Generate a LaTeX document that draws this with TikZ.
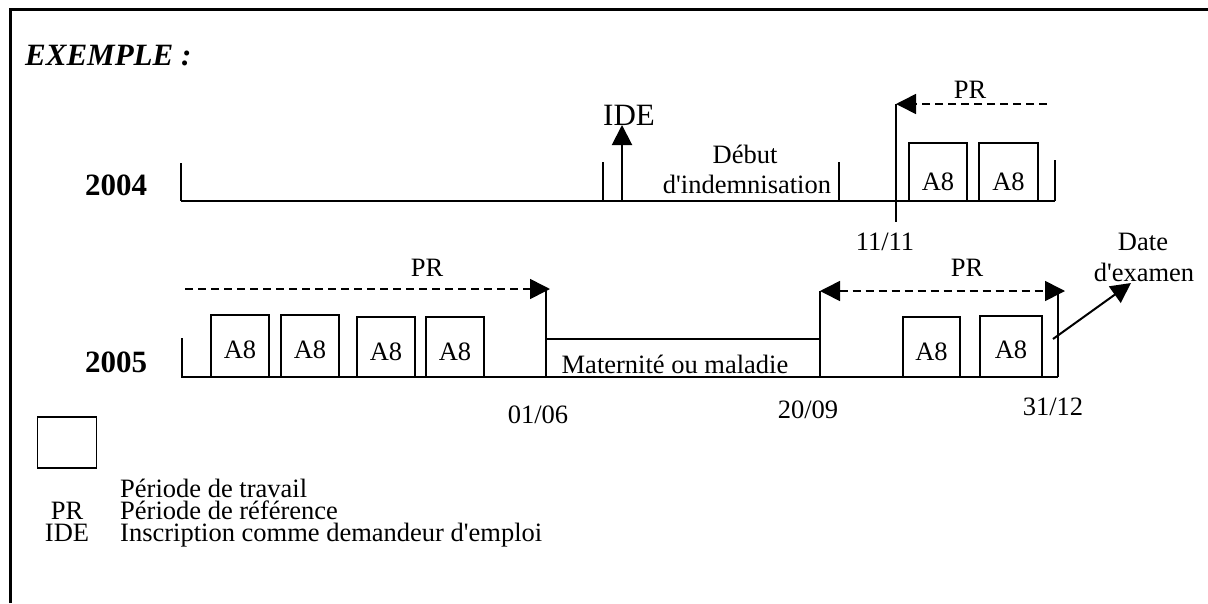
\documentclass[tikz,border=0pt]{standalone}
\usepackage{fontspec}
\setmainfont{Liberation Serif}
\usetikzlibrary{arrows.meta}
\newcommand{\sqt}{\XeTeXglyph\XeTeXcharglyph"27\relax}
\tikzset{
  txt/.style={anchor=base,inner sep=0pt,font=\fontsize{26.5}{30}\selectfont},
  bigtxt/.style={anchor=base,inner sep=0pt,font=\fontsize{31}{34}\selectfont\bfseries},
  axis/.style={line width=2pt},
  thin tick/.style={line width=1.2pt},
  wbox/.style={line width=1.6pt},
  tip/.style={-{Triangle[length=20pt,width=20pt]}},
  dtip/.style={{Triangle[length=20pt,width=20pt]}-{Triangle[length=20pt,width=20pt]}},
  prline/.style={line width=1.6pt,dash pattern=on 8pt off 5pt},
}
\begin{document}
\begin{tikzpicture}[x=1pt,y=-1pt]
\useasboundingbox (0,0) rectangle (1208,603);
% frame (top and left edges)
\draw[line width=2.6pt] (10.5,603) -- (10.5,9.3) -- (1208,9.3);

% title and years
\node[bigtxt,anchor=base west,font=\fontsize{31}{34}\selectfont\bfseries\itshape] (title) at (25,65) {EXEMPLE :};
\node[bigtxt] (y2004) at (116,195) {2004};
\node[bigtxt] (y2005) at (116,372) {2005};

% ---------------- 2004 ----------------
\coordinate (a0) at (181,201);
\coordinate (a1) at (1055,201);
\draw[axis] (a0) -- (a1);
\draw[thin tick] (181,163) -- (181,201);
\draw[thin tick] (603,162) -- (603,201);
\draw[thin tick] (839,162) -- (839,201);
\draw[thin tick] (1055,160) -- (1055,201);
% IDE arrow
\coordinate (ideb) at (622,201);
\coordinate (idet) at (622,125);
\draw[axis,tip] (ideb) -- (idet);
\node[anchor=base,inner sep=0pt,font=\fontsize{31}{34}\selectfont] (ide) at (629,125) {IDE};
\node[txt] (debut) at (745,163) {Début};
\node[txt] (indem) at (747,193) {d\sqt indemnisation};
% 11/11 line and PR
\coordinate (l11t) at (896,104);
\coordinate (l11b) at (896,222);
\draw[axis] (l11t) -- (l11b);
\coordinate (pr1s) at (1047,104);
\draw[prline,tip] (pr1s) -- (l11t);
\node[txt] (pr1) at (970,98) {PR};
\node[txt] (d1111) at (885,250) {11/11};
% work boxes 2004
\draw[wbox] (909,201) rectangle (967,143);
\draw[wbox] (979,201) rectangle (1038,143);
\node[txt] (b41) at (938,190) {A8};
\node[txt] (b42) at (1008.5,190) {A8};

% ---------------- 2005 ----------------
\coordinate (c0) at (181,377);
\coordinate (c1) at (1058,377);
\draw[axis] (c0) -- (c1);
\draw[thin tick] (182,338) -- (182,377);
% work boxes 2005
\draw[wbox] (211,377) rectangle (269,315);
\draw[wbox] (281,377) rectangle (339,315);
\draw[wbox] (357,377) rectangle (415,317);
\draw[wbox] (426,377) rectangle (484,317);
\draw[wbox] (903,377) rectangle (960,317);
\draw[wbox] (980,377) rectangle (1042,316);
\node[txt] (b51) at (240,358) {A8};
\node[txt] (b52) at (310,358) {A8};
\node[txt] (b53) at (386,360) {A8};
\node[txt] (b54) at (455,360) {A8};
\node[txt] (b55) at (931.5,360) {A8};
\node[txt] (b56) at (1011,358) {A8};
% 01/06
\coordinate (l06t) at (546,289);
\coordinate (l06b) at (546,377);
\draw[axis] (l06t) -- (l06b);
\coordinate (pr2s) at (185,289);
\coordinate (pr2e) at (550,289);
\draw[prline,tip] (pr2s) -- (pr2e);
\node[txt] (pr2) at (427,276) {PR};
% maternity block
\coordinate (m0) at (546,339);
\coordinate (m1) at (820,339);
\draw[axis] (m0) -- (m1);
\coordinate (l09t) at (820,291);
\coordinate (l09b) at (820,377);
\draw[axis] (l09t) -- (m1);
\draw[thin tick] (m1) -- (l09b);
\node[txt] (mat) at (675,373) {Maternité ou maladie};
% 20/09 - 31/12 PR
\coordinate (l12t) at (1058,291);
\coordinate (l12b) at (1058,377);
\draw[axis] (l12t) -- (l12b);
\coordinate (pr3e) at (1065,291);
\draw[prline,dtip] (l09t) -- (pr3e);
\node[txt] (pr3) at (967,276) {PR};
% dates
\node[txt] (d0106) at (538,423) {01/06};
\node[txt] (d2009) at (808,418) {20/09};
\node[txt] (d3112) at (1053,415) {31/12};
% date d'examen
\coordinate (exs) at (1053,339);
\coordinate (exe) at (1131,283);
\draw[axis,tip] (exs) -- (exe);
\node[txt] (date) at (1143,250) {Date};
\node[txt] (dexam) at (1144,281) {d\sqt examen};

% ---------------- legend ----------------
\draw[wbox] (37.5,417) rectangle (96.5,468);
\node[txt,anchor=base west] (lg1) at (120,497) {Période de travail};
\node[txt] (lgpr) at (67,519) {PR};
\node[txt,anchor=base west] (lg2) at (120,519) {Période de référence};
\node[txt] (lgide) at (67,541) {IDE};
\node[txt,anchor=base west] (lg3) at (120,541) {Inscription comme demandeur d\sqt emploi};
\end{tikzpicture}
\end{document}
